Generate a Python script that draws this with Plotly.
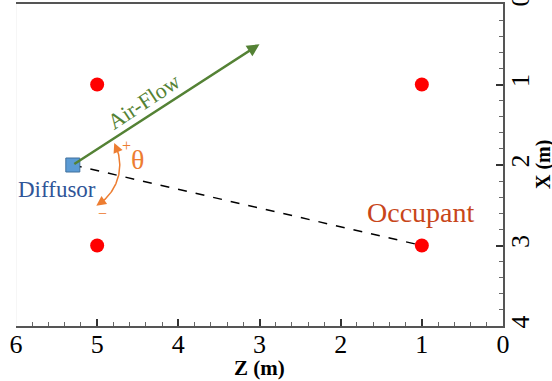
import numpy as np
import plotly.graph_objects as go

# Data
occupant_z = [5, 1, 5, 1]
occupant_x = [1, 1, 3, 3]
diffusor_z = [5.3]
diffusor_x = [2.0]
airflow_end_z = 3.0
airflow_end_x = 0.5
target_z = 1.0
target_x = 3.0
x_ticks = [0, 1, 2, 3, 4, 5, 6]
y_ticks = [0, 1, 2, 3, 4]

SERIF = "Liberation Serif"
fig = go.Figure()

# dashed line diffusor -> occupant
fig.add_trace(go.Scatter(x=[diffusor_z[0], target_z], y=[diffusor_x[0], target_x],
                         mode="lines", line=dict(color="black", width=1.5, dash="dash"),
                         hoverinfo="skip"))

# occupants
fig.add_trace(go.Scatter(x=occupant_z, y=occupant_x, mode="markers",
                         marker=dict(color="#FF0000", size=14), hoverinfo="skip"))

# angle arc
cz, cx = diffusor_z[0], diffusor_x[0]
rz, rx = 47 / 81.25, 47 / 80.5
a = np.radians(np.linspace(24, -56, 60))
arc_z = cz - rz * np.cos(a)
arc_x = cx - rx * np.sin(a)
fig.add_trace(go.Scatter(x=arc_z, y=arc_x, mode="lines",
                         line=dict(color="#ED7D31", width=1.5), hoverinfo="skip"))

# diffusor
fig.add_trace(go.Scatter(x=diffusor_z, y=diffusor_x, mode="markers",
                         marker=dict(color="#5B9BD5", size=14, symbol="square",
                                     line=dict(color="#41719C", width=1)),
                         hoverinfo="skip"))

def arc_pt(deg):
    r = np.radians(deg)
    return cz - rz * np.cos(r), cx - rx * np.sin(r)

annotations = []
# airflow arrow
annotations.append(dict(x=airflow_end_z, y=airflow_end_x, ax=diffusor_z[0], ay=diffusor_x[0],
                        xref="x", yref="y", axref="x", ayref="y", text="",
                        showarrow=True, arrowhead=2, arrowsize=1, arrowwidth=2.5,
                        arrowcolor="#548235", standoff=0, startstandoff=0))
# arc arrowheads
for tip, tail in [(28, 18), (-60, -50)]:
    tz, tx = arc_pt(tip)
    sz, sx = arc_pt(tail)
    annotations.append(dict(x=tz, y=tx, ax=sz, ay=sx, xref="x", yref="y", axref="x", ayref="y",
                            text="", showarrow=True, arrowhead=2, arrowsize=1.3, arrowwidth=1.5,
                            arrowcolor="#ED7D31", standoff=0))

def px2data(px, py):
    return 6 - (px - 16) / 81.25, (py - 4.5) / 80.5

texts = [
    ("Air-Flow", 144, 102, "#548235", 22, -33.6),
    ("Diffusor", 57, 190, "#2F5597", 23, 0),
    ("Occupant", 421, 213, "#C8461A", 28, 0),
    ("θ", 138, 160, "#ED7D31", 28, 0),
    ("+", 127, 146, "#ED7D31", 16, 0),
    ("−", 103, 214, "#ED7D31", 16, 0),
]
for t, px, py, col, sz, ang in texts:
    dx, dy = px2data(px, py)
    annotations.append(dict(x=dx, y=dy, xref="x", yref="y", text=t, showarrow=False,
                            font=dict(family=SERIF, size=sz, color=col), textangle=ang))

# axis titles
annotations.append(dict(x=0.5, y=-0.131, xref="paper", yref="paper", text="<b>Z (m)</b>",
                        showarrow=False, yanchor="middle",
                        font=dict(family=SERIF, size=21, color="black")))
annotations.append(dict(x=1.0, y=0.5, xref="paper", yref="paper", xshift=40, text="<b>X (m)</b>",
                        showarrow=False, textangle=-90, xanchor="center",
                        font=dict(family=SERIF, size=20, color="black")))

# left light border
shapes = [dict(type="line", xref="x", yref="paper", x0=6, x1=6, y0=0, y1=1,
               line=dict(color="#EEEEEE", width=1))]

fig.update_layout(
    width=552, height=381,
    margin=dict(l=16, r=49, t=4, b=55),
    paper_bgcolor="white", plot_bgcolor="white",
    showlegend=False,
    annotations=annotations, shapes=shapes,
    font=dict(family=SERIF, color="black"),
    xaxis=dict(range=[6, 0], tickvals=x_ticks, ticks="inside", ticklen=7, tickwidth=2,
               tickcolor="#333", showgrid=False, zeroline=False, showline=True,
               linecolor="#555", linewidth=1.5, mirror=True, ticklabeloverflow="allow",
               automargin=False, ticklabelstandoff=-6,
               minor=dict(ticks="inside", dtick=0.2, ticklen=4, tickcolor="#666", tickwidth=1,
                          showgrid=False),
               tickfont=dict(family=SERIF, size=26, color="black")),
    yaxis=dict(range=[4, 0], tickvals=y_ticks, side="right", ticks="inside", ticklen=7,
               tickwidth=2, tickcolor="#333", showgrid=False, zeroline=False, showline=True,
               linecolor="#555", linewidth=1.5, tickangle=-90, ticklabeloverflow="allow",
               automargin=False, ticklabelstandoff=-7,
               minor=dict(ticks="inside", dtick=0.2, ticklen=4, tickcolor="#666", tickwidth=1,
                          showgrid=False),
               tickfont=dict(family=SERIF, size=26, color="black")),
)

fig.write_html("out.html", config={"displayModeBar": False},
               post_script="document.body.style.margin='0';document.body.style.overflow='hidden';")
